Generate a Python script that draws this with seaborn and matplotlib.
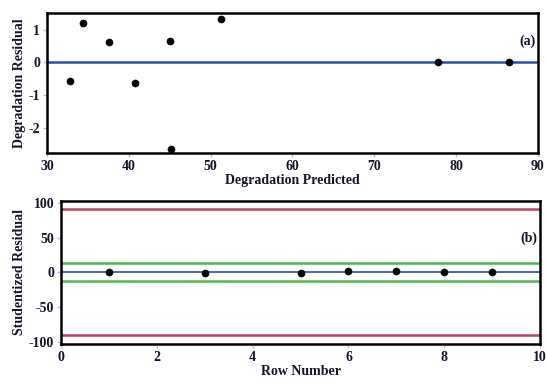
import pandas as pd
import seaborn as sns
import matplotlib.pyplot as plt

# panel (a): residual vs predicted
pred = [32.8, 34.4, 37.6, 40.8, 45.1, 45.2, 51.3, 77.8, 86.5]
resid = [-0.57, 1.21, 0.61, -0.62, 0.65, -2.63, 1.31, 0.0, 0.0]

# panel (b): studentized residual vs row number
rows = [1, 3, 5, 6, 7, 8, 9]
stud = [1.2, -1.2, -0.2, 2.6, 2.6, 1.2, 0.0]
red_lim = [91, -90]
green_lim = [14, -13]

df_a = pd.DataFrame({'Predicted': pred, 'Residual': resid})
df_b = pd.DataFrame({'Row': rows, 'Stud': stud})

sns.set_theme(style="white")
plt.rcParams['font.family'] = ['Liberation Serif', 'DejaVu Serif']
plt.rcParams['axes.unicode_minus'] = False
txt = '#15152a'

fig = plt.figure(figsize=(5.46, 3.84), dpi=100)
ax1 = fig.add_axes([0.086, 0.602, 0.899, 0.364])
ax2 = fig.add_axes([0.112, 0.104, 0.877, 0.373])

ax1.axhline(0, color='#2a4fa8', lw=1.8, zorder=1)
sns.scatterplot(data=df_a, x='Predicted', y='Residual', ax=ax1, color='black',
                s=26, edgecolor='black', zorder=3)
ax1.set_xlim(30, 90)
ax1.set_ylim(-2.75, 1.5)
ax1.set_xticks([30, 40, 50, 60, 70, 80, 90])
ax1.set_yticks([-2, -1, 0, 1])
ax1.set_xlabel("Degradation Predicted", fontsize=10, fontweight='bold', color=txt, labelpad=1)
ax1.set_ylabel("Degradation Residual", fontsize=10, fontweight='bold', color=txt, labelpad=2)
ax1.text(0.995, 0.80, "(a)", transform=ax1.transAxes, ha='right', va='center',
         fontsize=10, fontweight='bold', color=txt)

ax2.axhline(0, color='#2a4fa8', lw=1.2, zorder=1)
for v in red_lim:
    ax2.axhline(v, color='#c2405e', lw=1.8, zorder=1)
for v in green_lim:
    ax2.axhline(v, color='#4fb84f', lw=1.8, zorder=1)
sns.scatterplot(data=df_b, x='Row', y='Stud', ax=ax2, color='black',
                s=26, edgecolor='black', zorder=3)
ax2.set_xlim(0, 10)
ax2.set_ylim(-103, 103)
ax2.set_xticks([0, 2, 4, 6, 8, 10])
ax2.set_yticks([-100, -50, 0, 50, 100])
ax2.set_xlabel("Row Number", fontsize=10, fontweight='bold', color=txt, labelpad=1)
ax2.set_ylabel("Studentized Residual", fontsize=10, fontweight='bold', color=txt, labelpad=2)
ax2.text(0.995, 0.74, "(b)", transform=ax2.transAxes, ha='right', va='center',
         fontsize=10, fontweight='bold', color=txt)

for ax in (ax1, ax2):
    for sp in ax.spines.values():
        sp.set_color('black')
        sp.set_linewidth(1.8)
    ax.tick_params(axis='both', labelsize=10, colors='#c8b8e0', length=3, width=1,
                   direction='out', bottom=True, left=True, pad=2, labelcolor=txt)
    for lab in ax.get_xticklabels() + ax.get_yticklabels():
        lab.set_fontweight('bold')

fig.savefig('out.png', dpi=100)
